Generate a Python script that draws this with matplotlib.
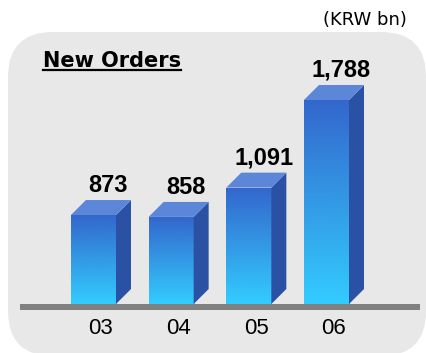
import numpy as np
import matplotlib.pyplot as plt
from matplotlib.patches import FancyBboxPatch, Polygon, Rectangle
from matplotlib.colors import LinearSegmentedColormap
from matplotlib.lines import Line2D

# Data
years = ['03', '04', '05', '06']
new_orders = [873, 858, 1091, 1788]
value_labels = ['873', '858', '1,091', '1,788']

# Colours
bg_color = '#e8e8e8'
front_top = '#3366cc'
front_bottom = '#33ccff'
side_color = '#2a51a3'
roof_color = '#5c87d9'
base_color = '#808080'

fig = plt.figure(figsize=(4.26, 3.53), dpi=100)

# Rounded grey panel behind the chart
panel = FancyBboxPatch((0.08, -0.03), 4.18, 3.24,
                       boxstyle='round,pad=0,rounding_size=0.45',
                       transform=fig.dpi_scale_trans,
                       facecolor=bg_color, edgecolor='none', zorder=-1)
fig.patches.append(panel)

ax = fig.add_axes([20 / 426, 49 / 353, 400 / 426, 264 / 353])
ax.set_facecolor('none')

x = np.arange(len(years))
width = 0.58
ymin, ymax = 165, 2265
dx = 0.193   # depth of the 3d effect, x direction
dy = 119     # depth of the 3d effect, y direction

grad = LinearSegmentedColormap.from_list('bar', [front_bottom, front_top])
grad_img = np.linspace(0, 1, 256).reshape(-1, 1)

for xi, v, lab in zip(x, new_orders, value_labels):
    left, right = xi - width / 2, xi + width / 2
    # front face with vertical gradient
    front = Rectangle((left, ymin), width, v - ymin, facecolor='none',
                      edgecolor='none')
    ax.add_patch(front)
    im = ax.imshow(grad_img, cmap=grad, origin='lower', aspect='auto',
                   extent=[left, right, ymin, v], zorder=2)
    im.set_clip_path(front)
    # side face
    side = Polygon([(right, ymin), (right + dx, ymin + dy),
                    (right + dx, v + dy), (right, v)],
                   closed=True, facecolor=side_color, edgecolor='none', zorder=2)
    ax.add_patch(side)
    # top face
    roof = Polygon([(left, v), (right, v), (right + dx, v + dy),
                    (left + dx, v + dy)],
                   closed=True, facecolor=roof_color, edgecolor='none', zorder=2)
    ax.add_patch(roof)
    ax.annotate(lab, xy=(xi + dx, v + dy), xytext=(0, 5.8),
                textcoords='offset points', ha='center', va='baseline',
                fontsize=17, fontweight='bold', family='Liberation Sans')

# grey base line
ax.add_patch(Rectangle((0, -6 / 264), 1, 6 / 264, transform=ax.transAxes,
                       facecolor=base_color, edgecolor='none', clip_on=False,
                       zorder=3))

ax.set_xlim(-0.946, 4.204)
ax.set_ylim(ymin, ymax)
ax.set_xticks(x + dx / 2)
ax.set_xticklabels(years, fontsize=16, family='Liberation Sans')
ax.tick_params(axis='x', length=0, pad=10)
ax.set_yticks([])
for s in ax.spines.values():
    s.set_visible(False)

# titles
fig.text(407 / 426, 1 - 25 / 353, '(KRW bn)', ha='right', va='baseline',
         fontsize=13, family='DejaVu Sans')
title = fig.text(43 / 426, 1 - 67 / 353, 'New Orders', ha='left',
                 va='baseline', fontsize=15, fontweight='bold',
                 family='DejaVu Sans')
bb = title.get_window_extent(fig.canvas.get_renderer())
uy = 1 - 70 / 353
fig.add_artist(Line2D([bb.x0 / fig.bbox.width, bb.x1 / fig.bbox.width],
                      [uy, uy], color='black', lw=1.6,
                      transform=fig.transFigure))

fig.savefig('out.png', dpi=100)
